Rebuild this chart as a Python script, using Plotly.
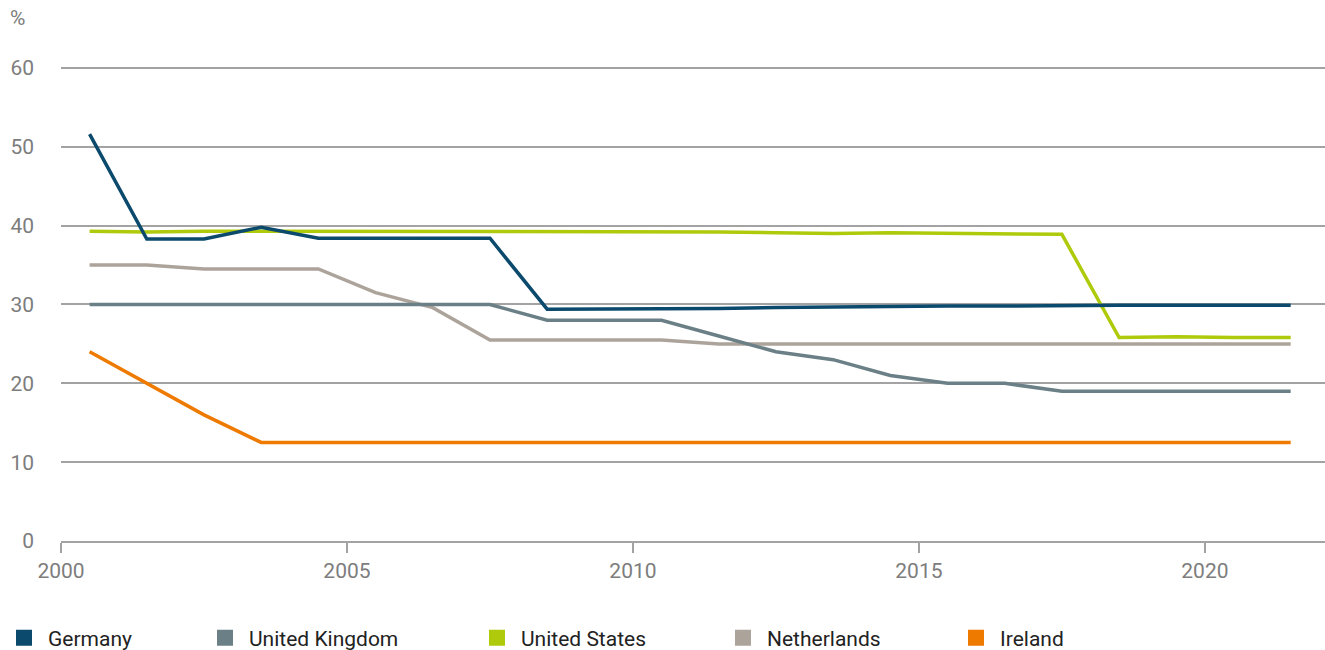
import plotly.graph_objects as go

# Statutory corporate tax rates, mid-year values
years = [2000.5 + i for i in range(22)]

germany = [51.6, 38.3, 38.3, 39.8, 38.4, 38.4, 38.4, 38.4, 29.4, 29.4, 29.4,
           29.5, 29.6, 29.7, 29.7, 29.8, 29.8, 29.9, 29.9, 29.9, 29.9, 29.9]
united_kingdom = [30, 30, 30, 30, 30, 30, 30, 30, 28, 28, 28,
                  26, 24, 23, 21, 20, 20, 19, 19, 19, 19, 19]
united_states = [39.3, 39.2, 39.3, 39.3, 39.3, 39.3, 39.3, 39.3, 39.3, 39.2, 39.2,
                 39.2, 39.1, 39.0, 39.1, 39.0, 38.9, 38.9, 25.8, 25.9, 25.8, 25.8]
netherlands = [35, 35, 34.5, 34.5, 34.5, 31.5, 29.6, 25.5, 25.5, 25.5, 25.5,
               25, 25, 25, 25, 25, 25, 25, 25, 25, 25, 25]
ireland = [24, 20, 16, 12.5, 12.5, 12.5, 12.5, 12.5, 12.5, 12.5, 12.5,
           12.5, 12.5, 12.5, 12.5, 12.5, 12.5, 12.5, 12.5, 12.5, 12.5, 12.5]

series_names = ["Germany", "United Kingdom", "United States", "Netherlands", "Ireland"]
series_values = [germany, united_kingdom, united_states, netherlands, ireland]
colors = ["#0b4a6c", "#6b8086", "#afca0b", "#aca49b", "#ef7a00"]

x_ticks = [2000, 2005, 2010, 2015, 2020]
y_ticks = [0, 10, 20, 30, 40, 50, 60]

# left edge (px) of each legend entry along the bottom row
legend_left_px = [10, 213, 485, 731, 964]

W, H = 1325, 650
M_L, M_R, M_T, M_B = 61, 0, 64, 109
PLOT_W, PLOT_H = W - M_L - M_R, H - M_T - M_B
FONT = "Roboto"
GRID = "#a3a3a3"
TICK_TXT = "#7d7d7d"

fig = go.Figure()

# Lines (drawn in reverse so Germany sits on top)
for name, vals, col in reversed(list(zip(series_names, series_values, colors))):
    fig.add_trace(go.Scatter(
        x=years, y=vals, mode="lines", name=name,
        line=dict(color=col, width=3.5),
        showlegend=False, hoverinfo="x+y+name",
    ))

# Square legend swatches, one legend per entry so each can be placed
legend_layouts = {}
for i, (name, col, left) in enumerate(zip(series_names, colors, legend_left_px)):
    key = "legend" if i == 0 else f"legend{i + 1}"
    fig.add_trace(go.Scatter(
        x=[None], y=[None], mode="markers", name=name,
        marker=dict(symbol="square", size=17, color=col),
        showlegend=True, legend=key,
    ))
    legend_layouts[key] = dict(
        xref="container", yref="container",
        x=max(left - 12, 0) / W, xanchor="left",
        y=(H - 638) / H, yanchor="middle",
        font=dict(family=FONT, size=21, color="#222222"),
        itemwidth=38, bgcolor="rgba(0,0,0,0)", borderwidth=0,
    )

fig.update_layout(
    width=W, height=H,
    margin=dict(l=M_L, r=M_R, t=M_T, b=M_B, autoexpand=False),
    plot_bgcolor="white", paper_bgcolor="white",
    font=dict(family=FONT, size=21, color=TICK_TXT),
    showlegend=True,
    xaxis=dict(
        range=[2000, 2022.1], tickvals=x_ticks, ticktext=[str(v) for v in x_ticks],
        showgrid=False, zeroline=False,
        showline=True, linecolor=GRID, linewidth=1.5,
        ticks="outside", ticklen=10, tickwidth=1.5, tickcolor=GRID,
        tickfont=dict(family=FONT, size=21, color=TICK_TXT),
    ),
    yaxis=dict(
        range=[0, 60.5], tickvals=y_ticks,
        showgrid=True, gridcolor=GRID, gridwidth=1.5,
        zeroline=False, showline=False, ticks="",
        ticklabelstandoff=26,
        tickfont=dict(family=FONT, size=21, color=TICK_TXT),
    ),
    annotations=[dict(
        text="%", xref="paper", yref="paper",
        x=(8 - M_L) / PLOT_W, y=(H - M_B - 18) / PLOT_H,
        xanchor="left", yanchor="middle", showarrow=False,
        font=dict(family=FONT, size=21, color=TICK_TXT),
    )],
    **legend_layouts,
)

fig.write_html("out.html")
